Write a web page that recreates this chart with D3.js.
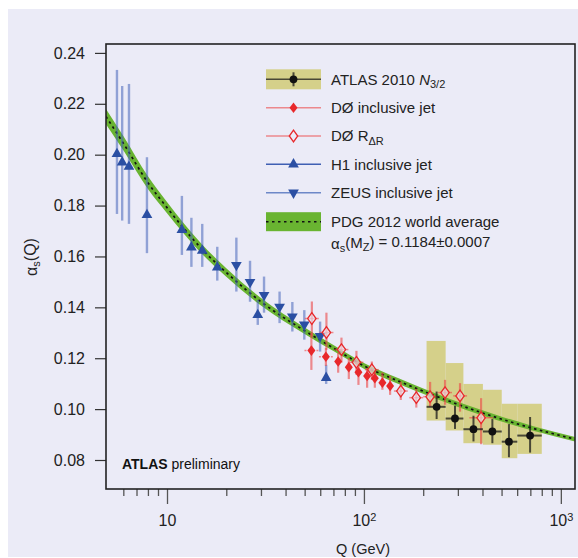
<!DOCTYPE html>
<html>
<head>
<meta charset="utf-8">
<script src="https://cdn.jsdelivr.net/npm/d3@7"></script>
<style>
  html, body { margin: 0; padding: 0; background: #fff; }
  svg { display: block; font-family: 'Liberation Sans', Arial, sans-serif; }
</style>
</head>
<body>
<div id="chart"></div>
<script>
// PDG 2012 world average, band centre + half width
const pdgQ = [4.9, 6, 8, 10, 15, 20, 30, 50, 70, 100, 150, 225, 333, 480, 725, 1190];
const pdgA = [0.2150, 0.2045, 0.1890, 0.1792, 0.1630, 0.1537, 0.1422, 0.1308, 0.1240, 0.1170, 0.1110, 0.1055, 0.1006, 0.0965, 0.0924, 0.0881];
const pdgErr = [0.0030, 0.0028, 0.0025, 0.0022, 0.0019, 0.0017, 0.0015, 0.0013, 0.0012, 0.0011, 0.0011, 0.0010, 0.0010, 0.0010, 0.0009, 0.0009];

// H1 inclusive jet
const h1Q = [5.57, 5.92, 6.41, 7.91, 11.9, 13.3, 15.1, 18.0, 28.9, 64.3];
const h1A = [0.2003, 0.1970, 0.1953, 0.1763, 0.1704, 0.1636, 0.1623, 0.1557, 0.1370, 0.1123];
const h1Lo = [0.1767, 0.1741, 0.1728, 0.1613, 0.1606, 0.1559, 0.1559, 0.1505, 0.1331, 0.1099];
const h1Hi = [0.2333, 0.2270, 0.2278, 0.1990, 0.1838, 0.1752, 0.1728, 0.1638, 0.1429, 0.1174];

// ZEUS inclusive jet
const zeusQ = [22.5, 26.4, 31.1, 37.3, 43.3, 49.8, 59.9];
const zeusA = [0.1566, 0.1499, 0.1448, 0.1402, 0.1364, 0.1332, 0.1287];
const zeusLo = [0.1462, 0.1422, 0.1379, 0.1338, 0.1305, 0.1273, 0.1226];
const zeusHi = [0.1674, 0.1583, 0.1521, 0.1462, 0.1421, 0.1389, 0.1344];

// D0 inclusive jet
const d0Q = [54.1, 64.1, 74.0, 83.8, 93.8, 103.8, 113.6, 124.1, 135.8];
const d0A = [0.1230, 0.1206, 0.1187, 0.1165, 0.1145, 0.1130, 0.1121, 0.1104, 0.1091];
const d0Lo = [0.1154, 0.1170, 0.1143, 0.1118, 0.1095, 0.1084, 0.1084, 0.1076, 0.1056];
const d0Hi = [0.1300, 0.1240, 0.1221, 0.1201, 0.1182, 0.1162, 0.1154, 0.1144, 0.1131];
const d0QLo = [49.9, 59.1, null, null, null, null, null, null, null];
const d0QHi = [58.7, 69.5, null, null, null, null, null, null, null];

// D0 R_deltaR
const d0rQ = [54.4, 64.5, 76.9, 91.6, 109.7, 153.9, 184.5, 216.8, 258.2, 307.6, 393.6];
const d0rA = [0.1356, 0.1301, 0.1234, 0.1184, 0.1155, 0.1071, 0.1045, 0.1049, 0.1065, 0.1052, 0.0966];
const d0rLo = [0.1285, 0.1233, 0.1183, 0.1135, 0.1115, 0.1036, 0.1006, 0.1010, 0.1017, 0.0990, 0.0862];
const d0rHi = [0.1423, 0.1379, 0.1281, 0.1229, 0.1187, 0.1108, 0.1080, 0.1107, 0.1115, 0.1102, 0.1043];
const d0rQLo = [50.1, 59.4, 70.9, 84.4, 101, 142, 170, 200, 238, 284, 343];
const d0rQHi = [59.0, 70.0, 83.4, 99.4, 119, 167, 200, 235, 280, 334, 453];

// ATLAS 2010 N3/2
const atlasQ = [234, 290, 360, 449, 545, 698];
const atlasQLo = [208, 260, 320, 402, 501, 601];
const atlasQHi = [260, 320, 402, 501, 601, 800];
const atlasA = [0.1009, 0.0963, 0.0921, 0.0912, 0.0872, 0.0896];
const atlasStatLo = [0.0961, 0.0922, 0.0873, 0.0866, 0.0811, 0.0829];
const atlasStatHi = [0.1069, 0.1013, 0.0974, 0.0961, 0.0941, 0.0969];
const atlasSysLo = [0.0955, 0.0916, 0.0866, 0.0860, 0.0807, 0.0824];
const atlasSysHi = [0.1268, 0.1181, 0.1099, 0.1076, 0.1021, 0.1021];

// axis ticks
const yTickVals = [0.08, 0.10, 0.12, 0.14, 0.16, 0.18, 0.20, 0.22, 0.24];
const xTickVals = [10, 100, 1000];
const xTickExp = ['', '2', '3'];
const xMinorVals = [6, 7, 8, 9, 20, 30, 40, 50, 60, 70, 80, 90, 200, 300, 400, 500, 600, 700, 800, 900];

const COL = {
  bg: '#ebebf7',
  khaki: '#d5d08a',
  green: '#69b431',
  red: '#e8282b',
  redErr: 'rgba(236,70,70,0.6)',
  blue: '#2b4fa3',
  blueErr: 'rgba(70,100,185,0.55)',
  black: '#111',
  blackErr: 'rgba(25,25,25,0.75)',
};

const TRI = 50; // triangle symbol area

function zip(q, a, lo, hi, qlo, qhi) {
  return q.map((d, i) => ({ q: d, a: a[i], lo: lo[i], hi: hi[i],
    qlo: qlo ? qlo[i] : null, qhi: qhi ? qhi[i] : null }));
}

function diamond(w, h) {
  return `M0,${-h}L${w},0L0,${h}L${-w},0Z`;
}

function makeChart() {
  const width = 578;
  const height = 558;
  const plot = { left: 106, top: 44, right: 575, bottom: 489 };

  const svg = d3.select('#chart').append('svg')
    .attr('width', width).attr('height', height);

  // lavender panel
  svg.append('rect').attr('x', 8).attr('y', 9).attr('width', 570).attr('height', 548)
    .attr('fill', COL.bg);

  const x = d3.scaleLog().domain([4.9, 1180]).range([plot.left, plot.right]);
  const y = d3.scaleLinear().domain([0.0686, 0.2435]).range([plot.bottom, plot.top]);

  svg.append('clipPath').attr('id', 'clip').append('rect')
    .attr('x', plot.left).attr('y', plot.top)
    .attr('width', plot.right - plot.left).attr('height', plot.bottom - plot.top);

  // AXES
  const yAxis = d3.axisLeft(y).tickValues(yTickVals).tickSize(11).tickPadding(10)
    .tickFormat(d3.format('.2f'));
  const gy = svg.append('g').attr('transform', `translate(${plot.left},0)`).call(yAxis);
  gy.select('.domain').remove();
  gy.selectAll('.tick line').attr('stroke', '#333').attr('stroke-width', 1.2);
  gy.selectAll('.tick text').style('font-size', '16px').attr('fill', '#222');

  const xAxis = d3.axisBottom(x).tickValues(xTickVals).tickSize(15).tickPadding(11)
    .tickFormat(() => '');
  const gx = svg.append('g').attr('transform', `translate(0,${plot.bottom})`).call(xAxis);
  gx.select('.domain').remove();
  gx.selectAll('.tick line').attr('stroke', '#555').attr('stroke-width', 1.3);
  gx.selectAll('.tick text').style('font-size', '16px').attr('fill', '#222')
    .each(function (d, i) {
      const t = d3.select(this);
      t.append('tspan').text('10');
      if (xTickExp[i]) t.append('tspan').attr('dy', '-0.45em').style('font-size', '11px').text(xTickExp[i]);
    });

  const xMinor = d3.axisBottom(x).tickValues(xMinorVals).tickSize(7).tickFormat(() => '');
  const gxm = svg.append('g').attr('transform', `translate(0,${plot.bottom})`).call(xMinor);
  gxm.select('.domain').remove();
  gxm.selectAll('.tick line').attr('stroke', '#555').attr('stroke-width', 1.3);

  // axis titles
  svg.append('text').attr('x', 363).attr('y', 554).attr('text-anchor', 'middle')
    .style('font-size', '14.5px').attr('fill', '#222').text('Q (GeV)');

  const yl = svg.append('text').attr('transform', 'translate(37,257) rotate(-90)')
    .attr('text-anchor', 'middle').style('font-size', '16px').attr('fill', '#222');
  yl.append('tspan').text('α');
  yl.append('tspan').attr('dy', '0.3em').style('font-size', '11px').text('s');
  yl.append('tspan').attr('dy', '-0.3em').text('(Q)');

  const g = svg.append('g').attr('clip-path', 'url(#clip)');

  // ATLAS systematic boxes
  const atlas = atlasQ.map((d, i) => ({ q: d, qlo: atlasQLo[i], qhi: atlasQHi[i], a: atlasA[i],
    lo: atlasStatLo[i], hi: atlasStatHi[i], slo: atlasSysLo[i], shi: atlasSysHi[i] }));
  g.selectAll('.sys').data(atlas).enter().append('rect')
    .attr('x', (d) => x(d.qlo)).attr('width', (d) => x(d.qhi) - x(d.qlo))
    .attr('y', (d) => y(d.shi)).attr('height', (d) => y(d.slo) - y(d.shi))
    .attr('fill', COL.khaki);

  // PDG band
  const pdg = pdgQ.map((d, i) => ({ q: d, a: pdgA[i], e: pdgErr[i] }));
  g.append('path').datum(pdg)
    .attr('d', d3.area().curve(d3.curveMonotoneX).x((d) => x(d.q))
      .y0((d) => y(d.a - d.e)).y1((d) => y(d.a + d.e)))
    .attr('fill', COL.green);
  g.append('path').datum(pdg)
    .attr('d', d3.line().curve(d3.curveMonotoneX).x((d) => x(d.q)).y((d) => y(d.a)))
    .attr('fill', 'none').attr('stroke', '#111').attr('stroke-width', 1.7)
    .attr('stroke-dasharray', '2.5,3.5');

  // ERROR BARS
  function vbars(data, color, w) {
    g.append('g').selectAll('line').data(data).enter().append('line')
      .attr('x1', (d) => x(d.q)).attr('x2', (d) => x(d.q))
      .attr('y1', (d) => y(d.lo)).attr('y2', (d) => y(d.hi))
      .attr('stroke', color).attr('stroke-width', w);
  }
  function hbars(data, color, w, dash) {
    g.append('g').selectAll('line').data(data.filter((d) => d.qlo)).enter().append('line')
      .attr('x1', (d) => x(d.qlo)).attr('x2', (d) => x(d.qhi))
      .attr('y1', (d) => y(d.a)).attr('y2', (d) => y(d.a))
      .attr('stroke', color).attr('stroke-width', w)
      .attr('stroke-dasharray', dash || null);
  }

  const h1 = zip(h1Q, h1A, h1Lo, h1Hi);
  const zeus = zip(zeusQ, zeusA, zeusLo, zeusHi);
  const d0 = zip(d0Q, d0A, d0Lo, d0Hi, d0QLo, d0QHi);
  const d0r = zip(d0rQ, d0rA, d0rLo, d0rHi, d0rQLo, d0rQHi);

  vbars(h1, COL.blueErr, 2.4);
  vbars(zeus, COL.blueErr, 2.4);
  vbars(d0, COL.redErr, 2.2);
  hbars(d0, COL.redErr, 1.5, '2,2');
  vbars(d0r, COL.redErr, 2.2);
  hbars(d0r, COL.redErr, 1.5);
  vbars(atlas, COL.blackErr, 2);
  hbars(atlas, COL.blackErr, 2);

  // MARKERS
  g.append('g').selectAll('path').data(h1).enter().append('path')
    .attr('d', d3.symbol(d3.symbolTriangle, TRI))
    .attr('transform', (d) => `translate(${x(d.q)},${y(d.a)})`)
    .attr('fill', COL.blue);
  g.append('g').selectAll('path').data(zeus).enter().append('path')
    .attr('d', d3.symbol(d3.symbolTriangle, TRI))
    .attr('transform', (d) => `translate(${x(d.q)},${y(d.a)}) rotate(180)`)
    .attr('fill', COL.blue);
  g.append('g').selectAll('path').data(d0).enter().append('path')
    .attr('d', diamond(4, 5.3))
    .attr('transform', (d) => `translate(${x(d.q)},${y(d.a)})`)
    .attr('fill', COL.red);
  g.append('g').selectAll('path').data(d0r).enter().append('path')
    .attr('d', diamond(4.2, 5.8))
    .attr('transform', (d) => `translate(${x(d.q)},${y(d.a)})`)
    .attr('fill', COL.bg).attr('fill-opacity', 0.6)
    .attr('stroke', COL.red).attr('stroke-width', 1.3);
  g.append('g').selectAll('circle').data(atlas).enter().append('circle')
    .attr('cx', (d) => x(d.q)).attr('cy', (d) => y(d.a)).attr('r', 3.9)
    .attr('fill', COL.black);

  // frame
  svg.append('rect').attr('x', plot.left).attr('y', plot.top)
    .attr('width', plot.right - plot.left).attr('height', plot.bottom - plot.top)
    .attr('fill', 'none').attr('stroke', '#222').attr('stroke-width', 1.6);

  // LEGEND
  const lg = svg.append('g').style('font-size', '15px').attr('fill', '#222');
  const lx0 = 266, lx1 = 321, lxm = 293.5, tx = 331;
  const rowY = [79.3, 107.7, 136, 164.3, 192.7, 221.7];

  lg.append('rect').attr('x', lx0).attr('y', rowY[0] - 10).attr('width', lx1 - lx0).attr('height', 20)
    .attr('fill', COL.khaki);
  lg.append('line').attr('x1', lx0).attr('x2', lx1).attr('y1', rowY[0]).attr('y2', rowY[0])
    .attr('stroke', COL.blackErr).attr('stroke-width', 1.6);
  lg.append('line').attr('x1', lxm).attr('x2', lxm).attr('y1', rowY[0] - 7).attr('y2', rowY[0] + 7)
    .attr('stroke', COL.blackErr).attr('stroke-width', 2);
  lg.append('circle').attr('cx', lxm).attr('cy', rowY[0]).attr('r', 3.9).attr('fill', COL.black);

  lg.append('line').attr('x1', lx0).attr('x2', lx1).attr('y1', rowY[1]).attr('y2', rowY[1])
    .attr('stroke', COL.redErr).attr('stroke-width', 1.6);
  lg.append('path').attr('d', diamond(4, 5.3)).attr('transform', `translate(${lxm},${rowY[1]})`)
    .attr('fill', COL.red);

  lg.append('line').attr('x1', lx0).attr('x2', lx1).attr('y1', rowY[2]).attr('y2', rowY[2])
    .attr('stroke', COL.redErr).attr('stroke-width', 1.6);
  lg.append('path').attr('d', diamond(4.2, 5.8)).attr('transform', `translate(${lxm},${rowY[2]})`)
    .attr('fill', COL.bg).attr('stroke', COL.red).attr('stroke-width', 1.3);

  lg.append('line').attr('x1', lx0).attr('x2', lx1).attr('y1', rowY[3]).attr('y2', rowY[3])
    .attr('stroke', '#3f5fb3').attr('stroke-width', 1.6);
  lg.append('path').attr('d', d3.symbol(d3.symbolTriangle, TRI))
    .attr('transform', `translate(${lxm},${rowY[3]})`).attr('fill', COL.blue);

  lg.append('line').attr('x1', lx0).attr('x2', lx1).attr('y1', rowY[4]).attr('y2', rowY[4])
    .attr('stroke', '#6d88c8').attr('stroke-width', 1.6);
  lg.append('path').attr('d', d3.symbol(d3.symbolTriangle, TRI))
    .attr('transform', `translate(${lxm},${rowY[4]}) rotate(180)`).attr('fill', COL.blue);

  lg.append('rect').attr('x', lx0).attr('y', rowY[5] - 9.5).attr('width', lx1 - lx0).attr('height', 19)
    .attr('fill', COL.green);
  lg.append('line').attr('x1', lx0).attr('x2', lx1).attr('y1', rowY[5]).attr('y2', rowY[5])
    .attr('stroke', '#111').attr('stroke-width', 1.6).attr('stroke-dasharray', '2.5,3.5');

  const t0 = lg.append('text').attr('x', tx).attr('y', rowY[0] + 5.3);
  t0.append('tspan').text('ATLAS 2010 ');
  t0.append('tspan').style('font-style', 'italic').text('N');
  t0.append('tspan').attr('dy', '0.3em').style('font-size', '11px').text('3/2');

  lg.append('text').attr('x', tx).attr('y', rowY[1] + 5.3).text('DØ inclusive jet');
  const t2 = lg.append('text').attr('x', tx).attr('y', rowY[2] + 5.3);
  t2.append('tspan').text('DØ R');
  t2.append('tspan').attr('dy', '0.3em').style('font-size', '11px').text('ΔR');
  lg.append('text').attr('x', tx).attr('y', rowY[3] + 5.3).text('H1 inclusive jet');
  lg.append('text').attr('x', tx).attr('y', rowY[4] + 5.3).text('ZEUS inclusive jet');
  lg.append('text').attr('x', tx).attr('y', rowY[5] + 5.3).text('PDG 2012 world average');
  const t6 = lg.append('text').attr('x', tx).attr('y', 249);
  t6.append('tspan').text('α');
  t6.append('tspan').attr('dy', '0.3em').style('font-size', '11px').text('s');
  t6.append('tspan').attr('dy', '-0.3em').text('(M');
  t6.append('tspan').attr('dy', '0.3em').style('font-size', '11px').text('Z');
  t6.append('tspan').attr('dy', '-0.3em').text(') = 0.1184±0.0007');

  // ATLAS preliminary
  const ap = svg.append('text').attr('x', 122).attr('y', 469).style('font-size', '14px').attr('fill', '#111');
  ap.append('tspan').style('font-weight', 'bold').text('ATLAS');
  ap.append('tspan').text(' preliminary');
}

makeChart();
</script>
</body>
</html>
